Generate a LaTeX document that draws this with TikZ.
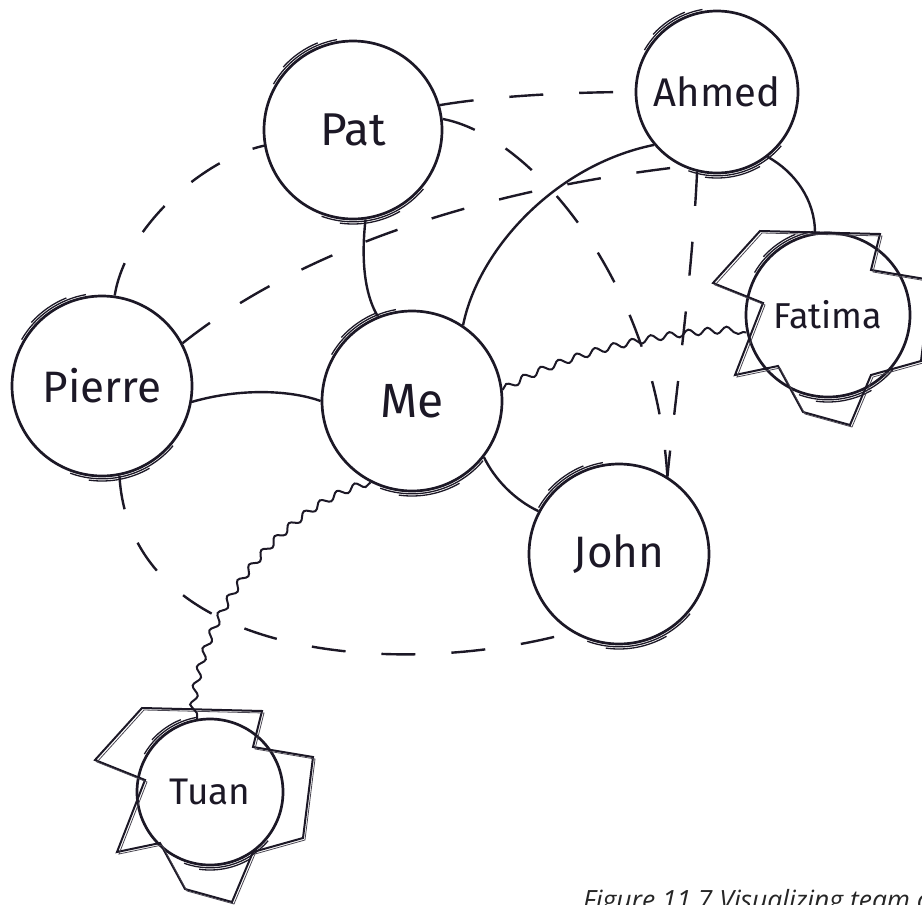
\documentclass[tikz,border=0pt]{standalone}
\usepackage{fontspec}
\setmainfont{Fira Sans}
\newfontfamily\capfont{Open Sans}
\usetikzlibrary{decorations.pathmorphing}
\definecolor{ink}{RGB}{28,24,38}
\newcommand\skarcs[2]{%
  \draw[skarc] (#1.center) ++(-100:#2+2.8) arc[start angle=-100,end angle=-150,radius=#2+2.8];
  \draw[skarc] (#1.center) ++(-112:#2+5) arc[start angle=-112,end angle=-138,radius=#2+5];
  \draw[skarc] (#1.center) ++(-250:#2+2.8) arc[start angle=-250,end angle=-320,radius=#2+2.8];
  \draw[skarc] (#1.center) ++(-262:#2+5) arc[start angle=-262,end angle=-300,radius=#2+5];
}
\newcommand\starpoly[1]{%
  \draw[starline,shift={(#1.center)}] (-68,-84) -- (52,-81) -- (43,-45) -- (103,-35) -- (93,46) -- (43,60) -- (22,110) -- (-25,97) -- (-50,51) -- (-93,60) -- (-65,-12) -- (-115,-32) -- cycle;
  \draw[starline2,shift={(#1.center)},shift={(2,2)}] (-68,-84) -- (52,-81) -- (43,-45) -- (103,-35) -- (93,46) -- (43,60) -- (22,110) -- (-25,97) -- (-50,51) -- (-93,60) -- (-65,-12) -- (-115,-32) -- cycle;
}
\begin{document}
\begin{tikzpicture}[x=1pt,y=-1pt,
  person/.style={circle, draw=ink, line width=2.7pt, inner sep=0pt, text=ink},
  skarc/.style={draw=ink, line width=1.3pt},
  solidedge/.style={draw=ink, line width=2.4pt},
  dashedge/.style={draw=ink, line width=2.4pt, dash pattern=on 34pt off 36pt},
  wavy/.style={draw=ink, line width=2pt, decorate, decoration={snake, amplitude=3.3pt, segment length=19pt}},
  starline/.style={draw=ink, line width=2pt, line join=miter},
  starline2/.style={draw=ink!80, line width=0.8pt}]
\useasboundingbox (0,0) rectangle (922,905);

\node[person, minimum size=178pt, font=\fontsize{46}{50}\selectfont] (pat) at (353,130) {Pat};
\node[person, minimum size=162pt, font=\fontsize{40}{44}\selectfont] (ahmed) at (717,92) {Ahmed};
\node[person, minimum size=180pt, font=\fontsize{44}{48}\selectfont] (pierre) at (102,386) {Pierre};
\node[person, minimum size=180pt, font=\fontsize{48}{52}\selectfont] (me) at (412,401) {Me};
\node[person, minimum size=180pt, font=\fontsize{44}{48}\selectfont] (john) at (619,554) {John};
\node[person, minimum size=164pt, font=\fontsize{36}{40}\selectfont] (fatima) at (828,315) {Fatima};
\node[person, minimum size=146pt, font=\fontsize{37}{41}\selectfont] (tuan) at (210,792) {Tuan};

\skarcs{pat}{89}
\skarcs{ahmed}{81}
\skarcs{pierre}{90}
\skarcs{me}{90}
\skarcs{john}{90}
\skarcs{fatima}{82}
\skarcs{tuan}{73}

\starpoly{fatima}
\starpoly{tuan}

% solid connectors
\draw[solidedge] (pat.-82) .. controls (362,250) and (362,290) .. (me.112);
\draw[solidedge] (pierre.-10) .. controls (240,388) and (290,390) .. (me.180);
\draw[solidedge] (me.56) .. controls (478,250) and (555,165) .. (ahmed.-140);
\draw[solidedge] (ahmed.-52) .. controls (795,172) and (815,200) .. (fatima.99);
\draw[solidedge] (me.-38) .. controls (495,480) and (515,500) .. (john.152);

% wavy connectors
\draw[wavy] (me.7) .. controls (570,350) and (680,330) .. (fatima.192);
\draw[wavy] (me.-117) .. controls (300,500) and (200,600) .. (tuan.100);

% dashed connectors
\draw[dashedge] (pierre.82) .. controls (125,230) and (200,160) .. (pat.190);
\draw[dashedge] (pierre.28) .. controls (300,250) and (480,190) .. (ahmed.-115);
\draw[dashedge] (pat.16) .. controls (500,95) and (580,92) .. (ahmed.180);
\draw[dashedge] (pat.7) .. controls (530,135) and (655,280) .. (john.58);
\draw[dashedge] (ahmed.-104) .. controls (692,280) and (675,400) .. (john.58);
\draw[dashedge] (pierre.-79) .. controls (130,660) and (400,680) .. (john.-121);

\node[anchor=base west, inner sep=0pt, text=black!85, font=\capfont\itshape\fontsize{26.5}{30}\selectfont] (cap) at (583,909) {Figure 11.7 Visualizing team c};
\end{tikzpicture}
\end{document}
